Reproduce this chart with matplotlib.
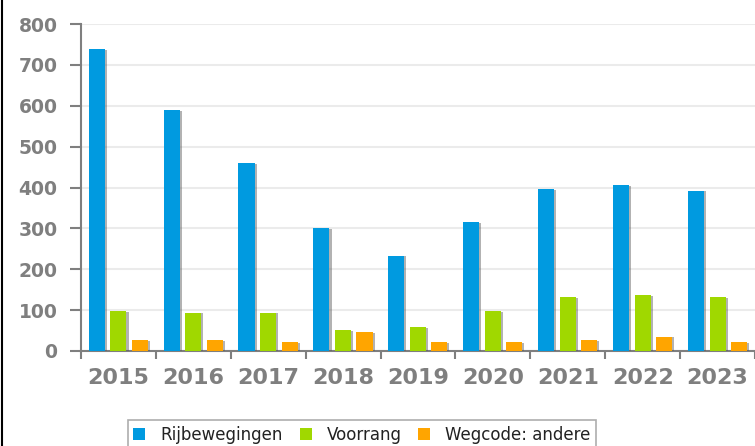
import matplotlib
matplotlib.use('Agg')
from matplotlib import pyplot as plt
from matplotlib.patches import Patch
from matplotlib.lines import Line2D
import matplotlib.patheffects as pe
import numpy as np

# ---------------------- DATA
years = ['2015', '2016', '2017', '2018', '2019', '2020', '2021', '2022', '2023']
rijbewegingen = [739, 590, 460, 301, 233, 315, 396, 406, 392]
voorrang = [98, 94, 94, 51, 59, 98, 132, 137, 132]
wegcode_andere = [26, 26, 21, 46, 21, 21, 26, 35, 21]
series_names = ['Rijbewegingen', 'Voorrang', 'Wegcode: andere']

# ---------------------- STYLE
colors = ['#009ae0', '#a0d800', '#ffa500']
tick_grey = '#7f7f7f'
offsets = [-0.29, 0.0, 0.285]
bar_w = 0.215

fig = plt.figure(figsize=(7.55, 4.46), dpi=100)
ax = fig.add_axes([81 / 755, 1 - 351 / 446, 1 - 81 / 755, (351 - 24) / 446])

x = np.arange(len(years))
shadow = [pe.SimplePatchShadow(offset=(1.5, -0.5), shadow_rgbFace='#555555', alpha=0.45), pe.Normal()]
for vals, off, col in zip([rijbewegingen, voorrang, wegcode_andere], offsets, colors):
    bars = ax.bar(x + off, vals, width=bar_w, color=col, zorder=3)
    for b in bars:
        b.set_path_effects(shadow)

ax.set_xlim(-0.5, len(years) - 0.5)
ax.set_ylim(0, 800)
ax.set_yticks(range(0, 801, 100))
ax.grid(axis='y', color='#ebebeb', linewidth=1.5, zorder=0)

for s in ['top', 'right']:
    ax.spines[s].set_visible(False)
for s in ['left', 'bottom']:
    ax.spines[s].set_color(tick_grey)
    ax.spines[s].set_linewidth(1.5)

ax.set_xticks(x)
ax.set_xticklabels(years)
ax.set_xticks(np.arange(-0.5, len(years), 1.0), minor=True)
ax.tick_params(axis='x', which='major', length=0, pad=12, labelsize=16, labelcolor=tick_grey)
ax.tick_params(axis='x', which='minor', length=6, width=1.5, color=tick_grey, direction='out')
ax.tick_params(axis='y', length=8, width=1.5, color=tick_grey, pad=9, labelsize=13.5, labelcolor=tick_grey)
for lbl in ax.get_xticklabels() + ax.get_yticklabels():
    lbl.set_fontweight('bold')

handles = [Patch(facecolor=c, edgecolor='none') for c in colors]
leg = fig.legend(handles, series_names, loc='upper center', bbox_to_anchor=(362 / 755, 1 - 420 / 446),
                 ncol=3, fontsize=12, frameon=True, fancybox=False, handlelength=0.72, handleheight=0.72,
                 handletextpad=0.9, columnspacing=1.0, borderpad=0.35, borderaxespad=0)
leg.get_frame().set_edgecolor('#999999')
leg.get_frame().set_linewidth(1.2)
for t in leg.get_texts():
    t.set_color('#222222')

# black border on the left edge
fig.add_artist(Line2D([0.002, 0.002], [0, 1], color='black', linewidth=1.5))

fig.savefig('out.png', dpi=100)
